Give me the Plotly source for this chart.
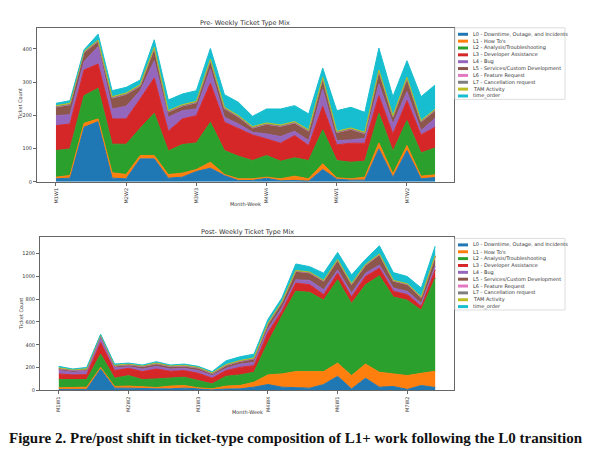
import plotly.graph_objects as go

# week labels (x axis), 28 weeks per period
weeks = ["M1W1", "M1W2", "M1W3", "M1W4", "M2W1", "M2W2", "M2W3", "M2W4",
         "M3W1", "M3W2", "M3W3", "M3W4", "M4W1", "M4W2", "M4W3", "M4W4",
         "M5W1", "M5W2", "M5W3", "M5W4", "M6W1", "M6W2", "M6W3", "M6W4",
         "M7W1", "M7W2", "M7W3", "M7W4"]
tick_weeks = ["M1W1", "M2W2", "M3W3", "M4W4", "M6W1", "M7W2"]

names = ["L0 - Downtime, Outage, and Incidents", "L1 - How To's",
         "L2 - Analysis/Troubleshooting", "L3 - Developer Assistance",
         "L4 - Bug", "L5 - Services/Custom Development", "L6 - Feature Request",
         "L7 - Cancellation request", "TAM Activity", "time_order"]
colors = ["#1f77b4", "#ff7f0e", "#2ca02c", "#d62728", "#9467bd",
          "#8c564b", "#e377c2", "#7f7f7f", "#bcbd22", "#17becf"]

# pre period ticket counts
pre_l0 = [9, 11, 164, 181, 11, 9, 69, 69, 11, 14, 31, 41, 19, 4, 4, 11, 3, 4, 2, 37, 8, 5, 5, 99, 14, 94, 9, 13]
pre_l1 = [5, 8, 12, 8, 16, 13, 10, 10, 11, 12, 6, 18, 3, 5, 5, 3, 6, 13, 7, 17, 4, 4, 9, 18, 10, 15, 8, 8]
pre_l2 = [80, 80, 83, 92, 86, 91, 82, 127, 71, 86, 80, 120, 72, 68, 55, 65, 53, 55, 55, 102, 52, 50, 48, 89, 68, 75, 70, 81]
pre_l3 = [75, 75, 77, 73, 76, 76, 88, 106, 59, 77, 82, 117, 85, 82, 77, 50, 54, 67, 45, 71, 47, 57, 54, 53, 52, 60, 54, 62]
pre_l4 = [30, 28, 25, 53, 30, 38, 25, 52, 42, 25, 20, 43, 15, 15, 8, 15, 20, 13, 15, 52, 13, 10, 15, 35, 30, 27, 13, 27]
pre_l5 = [25, 29, 26, 14, 32, 35, 13, 35, 15, 13, 18, 25, 25, 20, 12, 28, 30, 24, 27, 30, 23, 31, 13, 37, 20, 38, 25, 22]
pre_l6 = [1, 1, 2, 1, 1, 1, 1, 2, 1, 1, 1, 1, 1, 1, 1, 1, 1, 1, 1, 1, 1, 1, 1, 2, 1, 1, 1, 1]
pre_l7 = [1, 1, 1, 1, 1, 1, 1, 1, 1, 1, 1, 1, 1, 1, 1, 1, 1, 1, 1, 1, 1, 1, 1, 1, 1, 1, 1, 1]
pre_tam = [3, 3, 2, 3, 3, 3, 3, 2, 3, 3, 3, 3, 3, 3, 3, 3, 3, 3, 3, 3, 3, 3, 3, 2, 3, 3, 3, 3]
pre_time = [7, 8, 5, 18, 18, 17, 14, 23, 32, 32, 32, 32, 38, 40, 31, 42, 48, 48, 48, 28, 62, 62, 60, 66, 57, 50, 72, 73]

# post period ticket counts
post_l0 = [9, 9, 9, 188, 20, 20, 14, 14, 14, 20, 14, 6, 12, 14, 29, 52, 29, 23, 20, 52, 124, 14, 107, 29, 35, 9, 43, 26]
post_l1 = [14, 17, 20, 14, 15, 18, 15, 12, 24, 23, 9, 8, 26, 29, 43, 84, 116, 142, 145, 113, 116, 116, 124, 130, 110, 121, 107, 142]
post_l2 = [72, 67, 66, 116, 72, 92, 66, 75, 72, 73, 64, 44, 86, 93, 87, 283, 506, 703, 694, 625, 729, 631, 694, 845, 673, 660, 553, 815]
post_l3 = [50, 43, 44, 101, 67, 64, 70, 87, 58, 58, 63, 49, 50, 66, 58, 87, 43, 72, 67, 49, 58, 57, 73, 66, 50, 49, 34, 73]
post_l4 = [29, 23, 29, 43, 23, 14, 23, 23, 20, 20, 24, 23, 20, 29, 29, 35, 29, 29, 38, 43, 29, 35, 29, 29, 29, 29, 24, 34]
post_l5 = [14, 15, 11, 15, 14, 15, 20, 20, 20, 17, 20, 15, 23, 21, 29, 37, 43, 72, 63, 72, 81, 72, 66, 87, 57, 57, 49, 81]
post_l6 = [2, 2, 2, 3, 2, 2, 2, 2, 2, 2, 2, 2, 2, 2, 2, 3, 3, 3, 3, 3, 3, 3, 3, 3, 3, 3, 2, 3]
post_l7 = [3, 3, 3, 3, 3, 3, 3, 3, 3, 3, 3, 3, 3, 3, 3, 3, 3, 3, 3, 3, 3, 3, 3, 3, 3, 3, 3, 3]
post_tam = [5, 5, 5, 4, 5, 5, 5, 5, 5, 5, 5, 5, 5, 5, 5, 4, 4, 4, 4, 4, 4, 4, 4, 4, 4, 4, 5, 4]
post_time = [13, 4, 13, 5, 10, 7, 5, 11, 5, 10, 7, 10, 33, 33, 33, 34, 34, 57, 47, 63, 62, 77, 45, 71, 68, 63, 77, 83]

pre = [pre_l0, pre_l1, pre_l2, pre_l3, pre_l4, pre_l5, pre_l6, pre_l7, pre_tam, pre_time]
post = [post_l0, post_l1, post_l2, post_l3, post_l4, post_l5, post_l6, post_l7, post_tam, post_time]

W, H = 591, 463


def px(x):
    return x / W


def py(y):
    return 1 - y / H


fig = go.Figure()

for data, ax, grp in [(pre, "", "pre"), (post, "2", "post")]:
    for name, col, vals in zip(names, colors, data):
        fig.add_trace(go.Scatter(
            x=weeks, y=vals, name=name, mode="lines",
            stackgroup=grp, line=dict(color=col, width=1),
            fillcolor=col, xaxis="x" + ax, yaxis="y" + ax, showlegend=False,
        ))

axis_common = dict(showline=True, mirror=True, linecolor="#666", linewidth=1,
                   showgrid=False, zeroline=False, ticks="outside", ticklen=3,
                   tickcolor="#666", tickfont=dict(family="DejaVu Sans", size=5, color="#333"))

txt = dict(family="DejaVu Sans", color="#333")
annotations = [
    dict(text="Pre- Weekly Ticket Type Mix", x=px(245), y=py(23), font=dict(size=6.5, **txt)),
    dict(text="Post- Weekly Ticket Type Mix", x=px(247), y=py(234), font=dict(size=6.5, **txt)),
    dict(text="Month-Week", x=px(245), y=py(205), font=dict(size=5, **txt)),
    dict(text="Month-Week", x=px(247), y=py(415), font=dict(size=5, **txt)),
    dict(text="Ticket Count", x=px(20), y=py(105), textangle=-90, font=dict(size=5, **txt)),
    dict(text="Ticket Count", x=px(21), y=py(316), textangle=-90, font=dict(size=5, **txt)),
    dict(text="<b>Figure 2. Pre/post shift in ticket-type composition of L1+ work following the L0 transition</b>",
         x=0.5, y=py(441), font=dict(family="Liberation Serif", size=15, color="#111")),
]
shapes = []

# hand-drawn legends (plotly's own legend rows are too tall at this size)
for top in [28, 240]:
    shapes.append(dict(type="rect", xref="paper", yref="paper",
                       x0=px(455), x1=px(565), y0=py(top + 72), y1=py(top),
                       line=dict(color="#ddd", width=1), fillcolor="white"))
    for i, (name, col) in enumerate(zip(names, colors)):
        yc = top + 6.5 + i * 6.9
        shapes.append(dict(type="rect", xref="paper", yref="paper",
                           x0=px(458), x1=px(468), y0=py(yc + 1.5), y1=py(yc - 1.5),
                           line=dict(width=0), fillcolor=col))
        annotations.append(dict(text=name, x=px(471), y=py(yc), xanchor="left",
                                font=dict(size=5, **txt)))

for a in annotations:
    a.setdefault("xref", "paper")
    a.setdefault("yref", "paper")
    a.setdefault("showarrow", False)
    a.setdefault("xanchor", "center")
    a.setdefault("yanchor", "middle")

fig.update_layout(
    width=W, height=H,
    margin=dict(l=0, r=0, t=0, b=0),
    paper_bgcolor="white", plot_bgcolor="white",
    showlegend=False,
    xaxis=dict(domain=[px(37), px(454)], anchor="y", type="category",
               range=[-1.35, 28.35], tickvals=tick_weeks, ticktext=tick_weeks,
               tickangle=-90, **axis_common),
    yaxis=dict(domain=[py(183), py(28)], anchor="x", range=[0, 463],
               tickvals=[0, 100, 200, 300, 400], **axis_common),
    xaxis2=dict(domain=[px(40), px(454)], anchor="y2", type="category",
                range=[-1.35, 28.35], tickvals=tick_weeks, ticktext=tick_weeks,
                tickangle=-90, **axis_common),
    yaxis2=dict(domain=[py(393), py(239)], anchor="x2", range=[0, 1340],
                tickvals=[0, 200, 400, 600, 800, 1000, 1200], **axis_common),
    annotations=annotations,
    shapes=shapes,
)

# drop the page's default body margin so the figure fills the window
fig.write_html("out.html", config={"displayModeBar": False},
               post_script="document.body.style.margin='0';")
